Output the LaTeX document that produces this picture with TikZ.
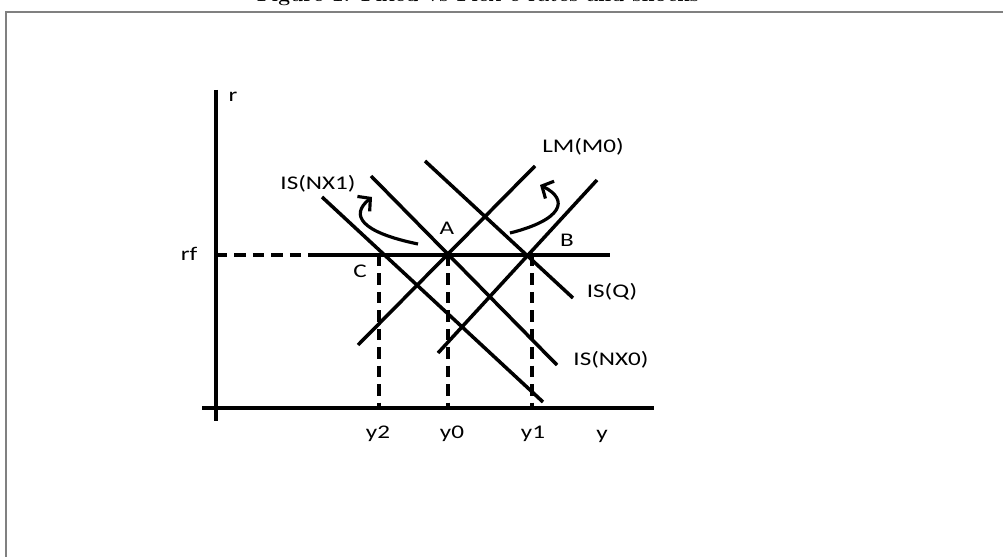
\documentclass[tikz,border=0pt]{standalone}
\usepackage{fontspec}
\setsansfont{Carlito}
\usetikzlibrary{arrows.meta}
\tikzset{
  curve/.style={line width=2pt},
  axis/.style={line width=2.4pt},
  guide/.style={line width=2pt, dash pattern=on 6.5pt off 4pt},
  lbl/.style={font=\sffamily\fontsize{11}{13}\selectfont, xscale=1.3, inner sep=0pt},
  shiftarrow/.style={line width=1.8pt, ->, >={Straight Barb[length=5pt,width=11pt,line width=1.8pt]}},
}
\begin{document}
\begin{tikzpicture}[x=0.02cm, y=-0.02cm]
\useasboundingbox (0,0) rectangle (1003,557);
% frame and the cut caption
\draw[gray, line width=1.1pt] (6,600) -- (6,12) -- (1010,12);
\node[font=\bfseries\large, anchor=base] (title) at (478,2) {Figure 1: Fixed vs Flex e rates and shocks};

% axes
\coordinate (ytop) at (216,90);
\coordinate (ybot) at (216,421);
\coordinate (xl) at (202,408);
\coordinate (xr) at (654,408);
\draw[axis] (ytop) -- (ybot);
\draw[axis] (xl) -- (xr);
\node[lbl] (r) at (233,97) {r};
\node[lbl] (y) at (602,436) {y};

% world interest rate
\coordinate (rf0) at (216,255);
\coordinate (rf1) at (313,255);
\coordinate (rf2) at (610,255);
\draw[guide] (rf0) -- (rf1);
\draw[curve] (rf1) -- (rf2);
\node[lbl] (rf) at (189,254) {rf};

% output levels
\coordinate (C) at (379,255);
\coordinate (A) at (448,255);
\coordinate (B) at (532,255);
\coordinate (y2b) at (379,408);
\coordinate (y0b) at (448,408);
\coordinate (y1b) at (532,408);
\draw[guide] (C) -- (y2b);
\draw[guide] (A) -- (y0b);
\draw[guide] (B) -- (y1b);
\node[lbl] (y2) at (378,434) {y2};
\node[lbl] (y0) at (452,434) {y0};
\node[lbl] (y1) at (533,434) {y1};

% IS curves
\coordinate (nx1a) at (322,197);
\coordinate (nx1b) at (543,402);
\coordinate (nx0a) at (371,176);
\coordinate (nx0b) at (557,365);
\coordinate (qa) at (425,161);
\coordinate (qb) at (573,298);
\draw[curve] (nx1a) -- (nx1b);
\draw[curve] (nx0a) -- (nx0b);
\draw[curve] (qa) -- (qb);
\node[lbl] (isnx1) at (318,184) {IS(NX1)};
\node[lbl] (isnx0) at (611,360) {IS(NX0)};
\node[lbl] (isq) at (612,292) {IS(Q)};

% LM curves
\coordinate (lm0a) at (358,345);
\coordinate (lm0b) at (535,166);
\coordinate (lm1a) at (438,353);
\coordinate (lm1b) at (597,180);
\draw[curve] (lm0a) -- (lm0b);
\draw[curve] (lm1a) -- (lm1b);
\node[lbl] (lm) at (583,147) {LM(M0)};

% points
\node[lbl] (ptA) at (447,228) {A};
\node[lbl] (ptB) at (567,240) {B};
\node[lbl] (ptC) at (360,271) {C};

% shift arrows
\coordinate (s1a) at (418,244);
\coordinate (s1b) at (372,197);
\coordinate (s2a) at (510,233);
\coordinate (s2b) at (540,185);
\draw[shiftarrow] (s1a) .. controls (360,232) and (350,215) .. (s1b);
\draw[shiftarrow] (s2a) .. controls (562,220) and (570,200) .. (s2b);
\end{tikzpicture}
\end{document}
